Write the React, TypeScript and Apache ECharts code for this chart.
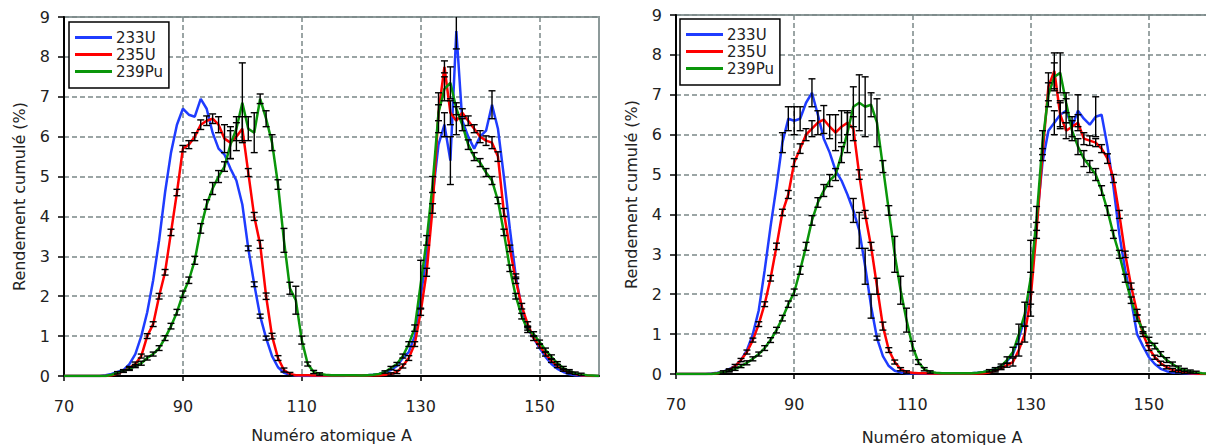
import React, { useEffect, useRef } from "react";
import * as echarts from "echarts";

// Mass number A runs from 70 to 160 (one value per A)
const massNumbers: number[] = [];
for (let a = 70; a <= 160; a++) massNumbers.push(a);

const seriesNames = ["233U", "235U", "239Pu"];
const seriesColors = ["#1f3cff", "#ff0000", "#0a960a"];
const xTickValues = [70, 90, 110, 130, 150];

// ---------- Left chart ----------
const left233: number[] = [
  0, 0, 0, 0, 0, 0, 0, 0.02, 0.05, 0.1,
  0.15, 0.3, 0.55, 1.0, 1.6, 2.4, 3.4, 4.6, 5.6, 6.3,
  6.7, 6.55, 6.5, 6.95, 6.7, 6.1, 5.7, 5.55, 5.2, 4.9,
  4.3, 3.2, 2.3, 1.5, 0.95, 0.5, 0.22, 0.08, 0.03, 0.01,
  0, 0, 0, 0, 0, 0, 0, 0, 0.01, 0.01,
  0.01, 0.02, 0.03, 0.05, 0.1, 0.15, 0.25, 0.45, 0.6, 1.0,
  2.0, 3.0, 4.5, 5.8, 6.3, 5.4, 8.65, 6.4, 6.0, 5.7,
  6.0, 6.15, 6.8, 6.2, 5.0, 3.7, 2.5, 1.7, 1.2, 0.95,
  0.7, 0.48, 0.3, 0.18, 0.1, 0.05, 0.02, 0.01, 0, 0,
  0,
];
const left235: number[] = [
  0, 0, 0, 0, 0, 0, 0, 0, 0.02, 0.06,
  0.12, 0.2, 0.3, 0.5, 1.0, 1.3, 2.0, 2.6, 3.6, 4.6,
  5.7, 5.8, 6.0, 6.3, 6.4, 6.45, 6.3, 5.95, 5.85, 6.0,
  6.2, 5.1, 4.0, 3.3, 2.0, 1.0, 0.45, 0.15, 0.05, 0.02,
  0.02, 0.02, 0.01, 0.01, 0.01, 0.01, 0.01, 0.01, 0.01, 0.01,
  0.01, 0.01, 0.02, 0.02, 0.03, 0.05, 0.1, 0.25, 0.45, 0.8,
  1.6, 2.6, 4.2, 6.6, 7.75, 6.6, 6.4, 6.6, 6.4, 6.2,
  6.0, 5.9, 5.85, 5.5, 4.1, 3.2, 2.4, 1.75, 1.3, 0.95,
  0.75, 0.55, 0.38, 0.25, 0.15, 0.09, 0.05, 0.02, 0.01, 0,
  0,
];
const left239: number[] = [
  0, 0, 0, 0, 0, 0, 0, 0, 0.03, 0.08,
  0.13, 0.18, 0.25, 0.32, 0.45, 0.55, 0.7, 0.95, 1.25, 1.6,
  2.05, 2.4, 2.9, 3.7, 4.3, 4.7, 5.0, 5.25, 5.8, 6.2,
  6.85, 6.2, 6.1, 6.95, 6.45, 5.85, 4.8, 3.4, 2.2, 1.9,
  0.9, 0.3, 0.1, 0.05, 0.03, 0.02, 0.02, 0.02, 0.02, 0.02,
  0.01, 0.02, 0.03, 0.05, 0.1, 0.2, 0.3, 0.5, 0.8, 1.2,
  2.3, 3.4, 4.8, 6.6, 7.2, 7.35, 6.7, 6.3, 5.8, 5.5,
  5.35, 5.1, 4.9, 4.4, 3.6, 2.7, 2.0, 1.5, 1.15, 1.05,
  0.85, 0.65, 0.48, 0.32, 0.2, 0.12, 0.07, 0.04, 0.02, 0.01,
  0,
];

// error bars: [A, half-height]
const leftErr233: number[][] = [
  [101, 0.06], [102, 0.06], [103, 0.05], [104, 0.05],
  [134, 0.3], [135, 0.6], [136, 0.45], [142, 0.35], [146, 0.06], [148, 0.05],
];
const leftErr235: number[][] = [
  [80, 0.03], [81, 0.04], [82, 0.05], [83, 0.05], [84, 0.06], [85, 0.06], [86, 0.07], [87, 0.07],
  [88, 0.08], [89, 0.08], [90, 0.08], [91, 0.1], [92, 0.1], [93, 0.12], [94, 0.12], [95, 0.12],
  [96, 0.2], [97, 0.35], [98, 0.4], [99, 0.35], [100, 0.3], [101, 0.1], [102, 0.1], [103, 0.1],
  [104, 0.08], [105, 0.07], [106, 0.06], [107, 0.05], [108, 0.04],
  [125, 0.03], [126, 0.04], [127, 0.05], [128, 0.06], [129, 0.06], [130, 0.08], [131, 0.1],
  [132, 0.12], [133, 0.2], [134, 0.15], [135, 0.3], [136, 0.35], [137, 0.1], [138, 0.12],
  [139, 0.1], [140, 0.15], [141, 0.12], [142, 0.15], [143, 0.12], [144, 0.1], [145, 0.08],
  [146, 0.08], [147, 0.07], [148, 0.06], [149, 0.06], [150, 0.05], [151, 0.05], [152, 0.04],
  [153, 0.04], [154, 0.03], [155, 0.03],
];
const leftErr239: number[][] = [
  [79, 0.03], [80, 0.03], [81, 0.04], [82, 0.04], [83, 0.05], [84, 0.05], [85, 0.05], [86, 0.06],
  [87, 0.06], [88, 0.07], [89, 0.07], [90, 0.08], [91, 0.08], [92, 0.1], [93, 0.12], [94, 0.12],
  [95, 0.15], [96, 0.15], [97, 0.12], [98, 0.35], [99, 0.3], [100, 1.0], [101, 0.3], [102, 0.5],
  [103, 0.12], [104, 0.2], [105, 0.2], [106, 0.12], [107, 0.3], [108, 0.15], [109, 0.35],
  [110, 0.1], [111, 0.05], [112, 0.04], [113, 0.03],
  [124, 0.03], [125, 0.04], [126, 0.04], [127, 0.05], [128, 0.06], [129, 0.08], [130, 0.6],
  [131, 0.12], [132, 0.2], [133, 0.5], [134, 0.3], [135, 0.4], [136, 0.15], [137, 0.15],
  [138, 0.12], [139, 0.1], [140, 0.1], [141, 0.1], [142, 0.1], [143, 0.08], [144, 0.08],
  [145, 0.08], [146, 0.07], [147, 0.07], [148, 0.06], [149, 0.06], [150, 0.05], [151, 0.05],
  [152, 0.05], [153, 0.04], [154, 0.04], [155, 0.04], [156, 0.03], [157, 0.03],
];

// ---------- Right chart ----------
const right233: number[] = [
  0, 0, 0, 0, 0, 0, 0.01, 0.03, 0.06, 0.12,
  0.2, 0.35, 0.6, 1.0, 1.6, 2.6, 3.7, 4.7, 5.8, 6.4,
  6.35, 6.4, 6.8, 7.05, 6.5, 5.9, 5.55, 5.1, 4.85, 4.5,
  4.1, 3.6, 2.7, 1.7, 0.9, 0.45, 0.2, 0.08, 0.04, 0.02,
  0.01, 0.01, 0.01, 0.01, 0.01, 0.01, 0.01, 0.01, 0.01, 0.02,
  0.02, 0.03, 0.05, 0.08, 0.12, 0.2, 0.32, 0.5, 0.9, 1.4,
  2.3, 3.8, 5.3, 6.1, 6.3, 6.5, 6.6, 6.2, 6.6, 6.4,
  6.25, 6.45, 6.5, 5.7, 4.7, 3.5, 2.6, 1.85, 1.0, 0.7,
  0.42, 0.25, 0.13, 0.07, 0.04, 0.03, 0.02, 0.01, 0, 0,
  0,
];
const right235: number[] = [
  0, 0, 0, 0, 0, 0, 0, 0.02, 0.05, 0.1,
  0.2, 0.35, 0.55, 0.85, 1.25, 1.75, 2.4, 3.2, 4.05, 4.5,
  5.3, 5.65, 6.0, 6.15, 6.3, 6.38, 6.2, 6.05, 6.2, 6.3,
  6.15, 5.0, 4.0, 3.2, 2.2, 1.2, 0.6, 0.3, 0.12, 0.05,
  0.03, 0.02, 0.02, 0.01, 0.01, 0.01, 0.01, 0.01, 0.01, 0.01,
  0.01, 0.01, 0.02, 0.04, 0.08, 0.15, 0.22, 0.3, 0.6, 1.0,
  1.9, 3.6, 5.5, 7.2, 7.6, 6.5, 6.1, 6.2, 6.3, 5.9,
  5.85, 5.8, 5.65, 5.4, 4.9, 4.0, 3.0, 2.2, 1.55, 1.0,
  0.65, 0.42, 0.27, 0.17, 0.1, 0.06, 0.04, 0.02, 0.01, 0,
  0,
];
const right239: number[] = [
  0, 0, 0, 0, 0, 0, 0, 0.02, 0.05, 0.08,
  0.13, 0.2, 0.28, 0.38, 0.5, 0.65, 0.85, 1.1, 1.4, 1.75,
  2.05, 2.6, 3.2, 3.85, 4.3, 4.6, 4.85, 5.0, 5.5, 6.05,
  6.7, 6.8, 6.7, 6.75, 6.3, 5.2, 4.1, 3.0, 2.1, 1.35,
  0.7, 0.3, 0.12, 0.05, 0.03, 0.02, 0.02, 0.02, 0.02, 0.02,
  0.02, 0.03, 0.05, 0.08, 0.12, 0.2, 0.35, 0.55, 1.0, 1.5,
  2.4, 3.9, 5.8, 7.0, 7.45, 7.55, 6.8, 6.1, 5.7, 5.4,
  5.2, 5.0, 4.6, 4.1, 3.5, 3.0, 2.4, 1.85, 1.4, 1.1,
  0.85, 0.7, 0.5, 0.35, 0.25, 0.15, 0.1, 0.06, 0.04, 0.02,
  0.01,
];

const rightErr233: number[][] = [
  [88, 0.25], [89, 0.3], [90, 0.35], [91, 0.3], [93, 0.35], [100, 0.3], [101, 0.45],
  [102, 0.45], [103, 0.3], [104, 0.05], [130, 0.25], [134, 0.3], [135, 0.35], [136, 0.3],
  [138, 0.4], [141, 0.5],
];
const rightErr235: number[][] = [
  [79, 0.03], [80, 0.04], [81, 0.04], [82, 0.05], [83, 0.05], [84, 0.06], [85, 0.06], [86, 0.07],
  [87, 0.08], [88, 0.08], [89, 0.1], [90, 0.1], [91, 0.12], [92, 0.15], [93, 0.2], [94, 0.3],
  [95, 0.35], [96, 0.3], [97, 0.45], [98, 0.4], [99, 0.3], [100, 0.3], [101, 0.12], [102, 0.1],
  [103, 0.1], [104, 0.2], [105, 0.1], [106, 0.06], [107, 0.05], [108, 0.04], [109, 0.03],
  [124, 0.03], [125, 0.04], [126, 0.05], [127, 0.1], [128, 0.15], [129, 0.2], [130, 0.15],
  [131, 0.2], [132, 0.15], [133, 0.35], [134, 0.45], [135, 0.3], [136, 0.2], [137, 0.25],
  [138, 0.2], [139, 0.15], [140, 0.12], [141, 0.1], [142, 0.1], [143, 0.12], [144, 0.1],
  [145, 0.1], [146, 0.08], [147, 0.08], [148, 0.07], [149, 0.06], [150, 0.06], [151, 0.05],
  [152, 0.05], [153, 0.04], [154, 0.04], [155, 0.03], [156, 0.03], [157, 0.03],
];
const rightErr239: number[][] = [
  [78, 0.03], [79, 0.03], [80, 0.04], [81, 0.04], [82, 0.05], [83, 0.05], [84, 0.05], [85, 0.06],
  [86, 0.06], [87, 0.07], [88, 0.07], [89, 0.08], [90, 0.08], [91, 0.1], [92, 0.1], [93, 0.12],
  [94, 0.12], [95, 0.15], [96, 0.15], [97, 0.15], [98, 0.2], [99, 0.5], [100, 0.5], [101, 0.7],
  [102, 0.75], [103, 0.3], [104, 0.6], [105, 0.15], [106, 0.12], [107, 0.45], [108, 0.35],
  [109, 0.3], [110, 0.12], [111, 0.06], [112, 0.04], [113, 0.03],
  [123, 0.03], [124, 0.04], [125, 0.05], [126, 0.08], [127, 0.12], [128, 0.25], [129, 0.3],
  [130, 0.95], [131, 0.3], [132, 0.3], [133, 0.3], [134, 0.35], [135, 0.5], [136, 0.25],
  [137, 0.25], [138, 0.2], [139, 0.2], [140, 0.15], [141, 0.15], [142, 0.12], [143, 0.12],
  [144, 0.1], [145, 0.1], [146, 0.1], [147, 0.08], [148, 0.08], [149, 0.08], [150, 0.07],
  [151, 0.07], [152, 0.06], [153, 0.06], [154, 0.05], [155, 0.05], [156, 0.04], [157, 0.04],
  [158, 0.03],
];

const FONT = "DejaVu Sans";

function pairs(values: number[]) {
  return massNumbers.map((a, i) => [a, values[i]]);
}

function errData(values: number[], errs: number[][]) {
  return errs.map(([a, e]) => [a, values[massNumbers.indexOf(a)], e]);
}

function renderErrBar(params: any, api: any) {
  const x = api.value(0);
  const y = api.value(1);
  const e = api.value(2);
  const top = api.coord([x, y + e]);
  const bot = api.coord([x, y - e]);
  const w = 3.5;
  const style = { stroke: "#000", lineWidth: 1.4 };
  return {
    type: "group",
    children: [
      { type: "line", shape: { x1: top[0], y1: top[1], x2: bot[0], y2: bot[1] }, style },
      { type: "line", shape: { x1: top[0] - w, y1: top[1], x2: top[0] + w, y2: top[1] }, style },
      { type: "line", shape: { x1: bot[0] - w, y1: bot[1], x2: bot[0] + w, y2: bot[1] }, style },
    ],
  };
}

function makeAxes(gi: number, xGap: number) {
  const x = {
    type: "value",
    gridIndex: gi,
    min: 70,
    max: 160,
    name: "Numéro atomique A",
    nameLocation: "middle",
    nameGap: xGap,
    nameTextStyle: { fontFamily: FONT, fontSize: 16, color: "#222" },
    axisLine: { show: true, onZero: false, lineStyle: { color: "#000", width: 2 } },
    axisTick: { show: true, customValues: xTickValues, length: 5, lineStyle: { color: "#000", width: 1.5 } },
    axisLabel: { customValues: xTickValues, fontFamily: FONT, fontSize: 16, color: "#222", margin: 22 },
    splitLine: { show: true, lineStyle: { type: [5, 3], color: "#7b8888", width: 1.5 } },
  };
  const y = {
    type: "value",
    gridIndex: gi,
    min: 0,
    max: 9,
    interval: 1,
    name: "Rendement cumulé (%)",
    nameLocation: "middle",
    nameGap: 37,
    nameTextStyle: { fontFamily: FONT, fontSize: 16, color: "#222" },
    axisLine: { show: true, lineStyle: { color: "#000", width: 2 } },
    axisTick: { show: true, length: 6, lineStyle: { color: "#000", width: 1.5 } },
    axisLabel: { fontFamily: FONT, fontSize: 16, color: "#222", margin: 14 },
    splitLine: { show: true, lineStyle: { type: [5, 3], color: "#7b8888", width: 1.5 } },
  };
  return { x, y };
}

function makeSeries(gi: number, vals: number[][], errs: number[][][]) {
  const out: any[] = [];
  vals.forEach((v, k) => {
    out.push({
      type: "line",
      name: seriesNames[k],
      xAxisIndex: gi,
      yAxisIndex: gi,
      data: pairs(v),
      showSymbol: false,
      symbol: "none",
      lineStyle: { color: seriesColors[k], width: 2.5 },
      itemStyle: { color: seriesColors[k] },
      z: 2 + k,
      silent: true,
    });
  });
  vals.forEach((v, k) => {
    out.push({
      type: "custom",
      xAxisIndex: gi,
      yAxisIndex: gi,
      data: errData(v, errs[k]),
      renderItem: renderErrBar,
      clip: true,
      z: 10,
      silent: true,
    });
  });
  return out;
}

function makeLegend(left: number, top: number) {
  return {
    orient: "vertical",
    left,
    top,
    data: seriesNames,
    icon: "rect",
    itemWidth: 37,
    itemHeight: 3,
    itemGap: 0,
    padding: [7, 6, 8, 6],
    borderColor: "#000",
    borderWidth: 1.5,
    backgroundColor: "#fff",
    selectedMode: false,
    textStyle: { fontFamily: FONT, fontSize: 15, color: "#222", lineHeight: 17, padding: [0, 0, 0, -1] },
  };
}

export default function App() {
  const ref = useRef<HTMLDivElement>(null);
  useEffect(() => {
    if (!ref.current) return;
    const chart = echarts.init(ref.current, undefined, { renderer: "svg" });
    const a0 = makeAxes(0, 51);
    const a1 = makeAxes(1, 55);
    chart.setOption({
      animation: false,
      backgroundColor: "#fff",
      grid: [
        { left: 64, top: 17, width: 535, height: 359, show: true, borderColor: "#8d9a9a", borderWidth: 2, backgroundColor: "transparent", containLabel: false, outerBoundsMode: "none" },
        { left: 676, top: 15, width: 532, height: 359, show: true, borderColor: "#8d9a9a", borderWidth: 2, backgroundColor: "transparent", containLabel: false, outerBoundsMode: "none" },
      ],
      xAxis: [a0.x, a1.x],
      yAxis: [a0.y, a1.y],
      legend: [makeLegend(69, 22), makeLegend(680, 19)],
      series: [
        ...makeSeries(0, [left233, left235, left239], [leftErr233, leftErr235, leftErr239]),
        ...makeSeries(1, [right233, right235, right239], [rightErr233, rightErr235, rightErr239]),
      ],
    });
    return () => chart.dispose();
  }, []);
  return (
    <div
      ref={ref}
      style={{ position: "absolute", left: 0, top: 0, width: 1206, height: 445, background: "#fff" }}
    />
  );
}
